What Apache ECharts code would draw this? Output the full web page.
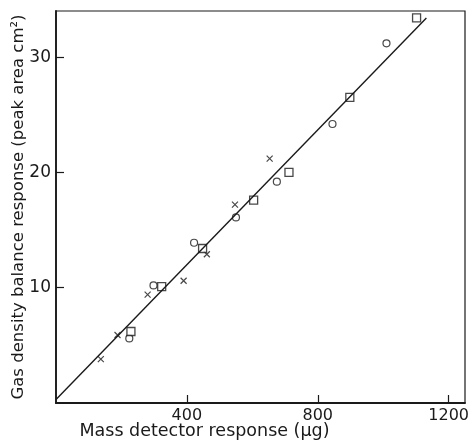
<!DOCTYPE html>
<html>
<head>
<meta charset="utf-8">
<title>Gas density balance vs mass detector</title>
<script src="https://cdn.jsdelivr.net/npm/echarts@6/dist/echarts.min.js"></script>
<style>
  html, body { margin: 0; padding: 0; background: #fff; }
  #main { width: 474px; height: 442px; }
</style>
</head>
<body>
<div id="main"></div>
<script>
// values
var crossX  = [137, 188, 280, 390, 461, 547, 653];
var crossY  = [3.8, 5.9, 9.4, 10.6, 12.9, 17.2, 21.2];
var circleX = [224, 298, 422, 550, 675, 845, 1010];
var circleY = [5.6, 10.2, 13.9, 16.1, 19.2, 24.2, 31.2];
var squareX = [229, 323, 448, 604, 712, 898, 1102];
var squareY = [6.2, 10.1, 13.4, 17.6, 20.0, 26.5, 33.4];
var fitX = [0, 1132];
var fitY = [0.3, 33.4];
var xTicks = [400, 800, 1200];
var yTicks = [10, 20, 30];

function pairs(xs, ys) {
  return xs.map(function (x, i) { return [x, ys[i]]; });
}

var ink = '#1a1a1a';
var font = 'DejaVu Sans';

var chart = echarts.init(document.getElementById('main'), null, {renderer: 'canvas'});
chart.setOption({
  animation: false,
  backgroundColor: '#fff',
  grid: {
    left: 56, top: 11, right: 9, bottom: 39,
    outerBoundsMode: 'none',
    show: true, borderColor: ink, borderWidth: 1.2
  },
  xAxis: {
    type: 'value', min: 0, max: 1250, interval: 400,
    name: 'Mass detector response (\u03bcg)',
    nameLocation: 'middle', nameGap: 19, nameMoveOverlap: false,
    // title sits left of the plot centre in the original
    nameTextStyle: {color: ink, fontFamily: font, fontSize: 17.5, padding: [0, 112, 0, 0]},
    axisLine: {show: true, lineStyle: {color: ink, width: 1.8}},
    axisTick: {show: true, inside: true, length: 8, lineStyle: {color: ink, width: 1.2}},
    axisLabel: {
      color: ink, fontFamily: font, fontSize: 16, margin: 5,
      showMinLabel: false, showMaxLabel: false,
      formatter: function (v) { return xTicks.indexOf(v) >= 0 ? String(v) : ''; }
    },
    splitLine: {show: false}
  },
  yAxis: {
    type: 'value', min: 0, max: 34, interval: 10,
    name: 'Gas density balance response (peak area cm\u00b2)',
    nameLocation: 'middle', nameGap: 29, nameMoveOverlap: false,
    nameTextStyle: {color: ink, fontFamily: font, fontSize: 16.5},
    axisLine: {show: true, lineStyle: {color: ink, width: 1.8}},
    axisTick: {show: true, inside: true, length: 8, lineStyle: {color: ink, width: 1.2}},
    axisLabel: {
      color: ink, fontFamily: font, fontSize: 17, margin: 5,
      showMinLabel: false, showMaxLabel: false,
      formatter: function (v) { return yTicks.indexOf(v) >= 0 ? String(v) : ''; }
    },
    splitLine: {show: false}
  },
  series: [
    {
      type: 'line', data: pairs(fitX, fitY), showSymbol: false,
      lineStyle: {color: ink, width: 1.4}, silent: true
    },
    {
      type: 'scatter', data: pairs(crossX, crossY),
      symbol: 'path://M0,0L10,10M10,0L0,10', symbolSize: 6,
      itemStyle: {color: 'none', borderColor: ink, borderWidth: 1.2}
    },
    {
      type: 'scatter', data: pairs(circleX, circleY),
      symbol: 'circle', symbolSize: 7,
      itemStyle: {color: '#fff', borderColor: ink, borderWidth: 1.2}
    },
    {
      type: 'scatter', data: pairs(squareX, squareY),
      symbol: 'rect', symbolSize: 8,
      itemStyle: {color: '#fff', borderColor: ink, borderWidth: 1.3}
    }
  ]
});
</script>
</body>
</html>
